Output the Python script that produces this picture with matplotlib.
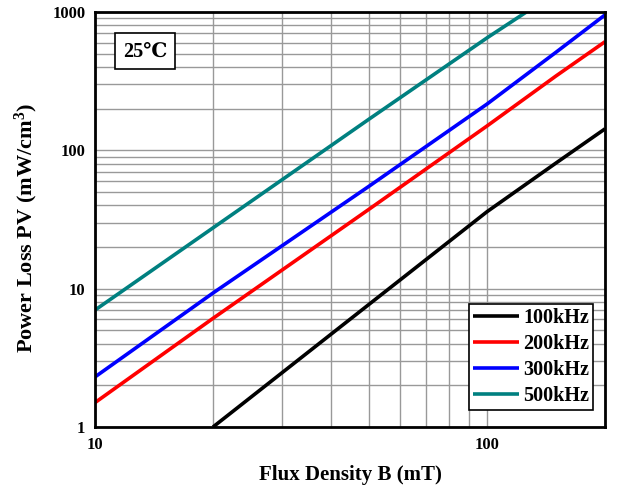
import matplotlib
matplotlib.use("Agg")
import matplotlib.pyplot as plt
from matplotlib.ticker import LogLocator, NullFormatter, FixedLocator, FixedFormatter

# values
fluxB = [10, 20, 50, 100, 150, 200]
pv100 = [None, 1.0, 7.7, 36, 81, 143]
pv200 = [1.5, 6.1, 37.5, 150, 345, 610]
pv300 = [2.3, 9.3, 55, 216, 512, 953]
teal_b = [10, 20, 50, 100, 126]
pv500 = [7.0, 27.5, 168, 650, 1000]
labels = ["100kHz", "200kHz", "300kHz", "500kHz"]
colors = ["black", "#ff0000", "#0000ff", "#008080"]

plt.rcParams['font.family'] = ['Liberation Serif', 'DejaVu Serif']
plt.rcParams['font.weight'] = 'bold'
plt.rcParams['mathtext.fontset'] = 'custom'
plt.rcParams['mathtext.rm'] = 'Liberation Serif:bold'
plt.rcParams['mathtext.bf'] = 'Liberation Serif:bold'
plt.rcParams['mathtext.default'] = 'bf'

fig = plt.figure(figsize=(6.27, 4.95), dpi=100)
ax = fig.add_axes([0.1515, 0.1374, 0.8135, 0.8384])

ax.plot(fluxB[1:], pv100[1:], color=colors[0], lw=2.6, label=labels[0], solid_capstyle='butt')
ax.plot(fluxB, pv200, color=colors[1], lw=2.6, label=labels[1], solid_capstyle='butt')
ax.plot(fluxB, pv300, color=colors[2], lw=2.6, label=labels[2], solid_capstyle='butt')
ax.plot(teal_b, pv500, color=colors[3], lw=2.6, label=labels[3], solid_capstyle='butt')

ax.set_xscale('log')
ax.set_yscale('log')
ax.set_xlim(10, 200)
ax.set_ylim(1, 1000)

ax.xaxis.set_major_locator(FixedLocator([10, 100]))
ax.xaxis.set_major_formatter(FixedFormatter(["10", "100"]))
ax.xaxis.set_minor_locator(LogLocator(base=10, subs=range(2, 10)))
ax.xaxis.set_minor_formatter(NullFormatter())
ax.yaxis.set_major_locator(FixedLocator([1, 10, 100, 1000]))
ax.yaxis.set_major_formatter(FixedFormatter(["1", "10", "100", "1000"]))
ax.yaxis.set_minor_locator(LogLocator(base=10, subs=range(2, 10)))
ax.yaxis.set_minor_formatter(NullFormatter())

ax.grid(True, which='both', color='#999999', lw=1.0)
ax.tick_params(which='both', length=0, labelsize=12, pad=7)
for s in ax.spines.values():
    s.set_linewidth(2)
    s.set_color('black')
    s.set_zorder(5)

ax.set_xlabel("Flux Density B (mT)", fontsize=15, fontweight='bold', labelpad=9)
ax.set_ylabel("Power Loss PV (mW/cm$^3$)", fontsize=16, fontweight='bold')
ax.yaxis.set_label_coords(-0.108, 0.48)

ax.text(0.055, 0.905, "25℃", transform=ax.transAxes, fontsize=14.5, fontweight='bold',
        va='center', ha='left',
        bbox=dict(boxstyle='square,pad=0.4', fc='white', ec='black', lw=1.2))

leg = ax.legend(loc='lower right', bbox_to_anchor=(0.977, 0.04), fontsize=14.5,
                handlelength=2.3, handletextpad=0.2, borderpad=0.2, labelspacing=0.3,
                fancybox=False, framealpha=1, edgecolor='black', borderaxespad=0)
leg.get_frame().set_linewidth(1.2)

fig.savefig("out.png", dpi=100)
